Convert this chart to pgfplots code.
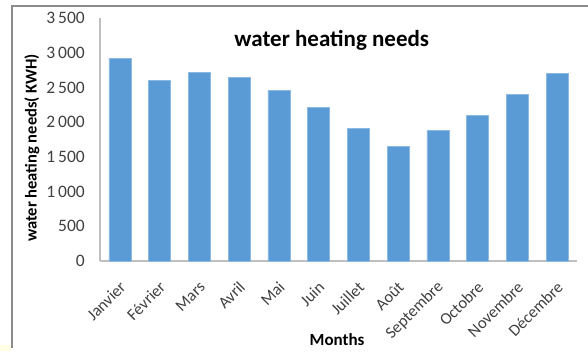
\documentclass[border=0pt]{standalone}
\usepackage{pgfplots}
\pgfplotsset{compat=1.18}
\usepackage{fontspec}
\setmainfont{Carlito}
\definecolor{barblue}{HTML}{5B9BD5}
\definecolor{ticktxt}{HTML}{404040}
\definecolor{axisgray}{HTML}{BFBFBF}
\definecolor{framegray}{HTML}{8C8C8C}
\definecolor{paleyellow}{HTML}{FFFFE6}
\begin{document}
\begin{tikzpicture}
\path[use as bounding box] (0pt,0pt) rectangle (588pt,351pt);
\fill[paleyellow] (0pt,0pt) rectangle (12pt,6pt);
\draw[framegray, line width=1.2pt] (12pt,3pt) -- (12pt,345pt) -- (588pt,345pt);
\begin{axis}[
  at={(100pt,90pt)}, anchor=south west,
  scale only axis, width=477pt, height=242.7pt,
  xmin=-0.5, xmax=11.5, ymin=0, ymax=3500,
  ybar, bar width=22pt,
  axis lines*=left,
  axis line style={axisgray, line width=1.3pt},
  tick style={draw=none},
  xtick={0,...,11},
  xticklabels={Janvier,Février,Mars,Avril,Mai,Juin,Juillet,Août,Septembre,Octobre,Novembre,Décembre},
  ytick={0,500,1000,1500,2000,2500,3000,3500},
  yticklabels={0,500,1\,000,1\,500,2\,000,2\,500,3\,000,3\,500},
  yticklabel style={font=\fontsize{17.5}{20}\selectfont, text=ticktxt, anchor=east, inner sep=0pt, xshift=-15pt},
  xticklabel style={font=\fontsize{16.5}{18}\selectfont, text=ticktxt, inner sep=0pt, xshift=3pt, yshift=-19pt, rotate=45, anchor=east},
  title={water heating needs},
  title style={font=\bfseries\fontsize{23}{25}\selectfont, at={(axis description cs:0.486,0.886)}, anchor=center},
  ylabel={water heating needs( KWH)},
  ylabel style={font=\bfseries\fontsize{16.5}{18}\selectfont, at={(axis description cs:-0.1426,0.466)}, anchor=center},
  xlabel={Months},
  xlabel style={font=\bfseries\fontsize{17}{19}\selectfont, at={(axis description cs:0.497,-0.3255)}, anchor=center},
]
\addplot[fill=barblue, draw=barblue!70!white, line width=0.5pt] coordinates {
 (0,2923) (1,2610) (2,2721) (3,2649) (4,2466) (5,2216)
 (6,1918) (7,1654) (8,1879) (9,2101) (10,2408) (11,2701)
};
\end{axis}
\end{tikzpicture}
\end{document}
